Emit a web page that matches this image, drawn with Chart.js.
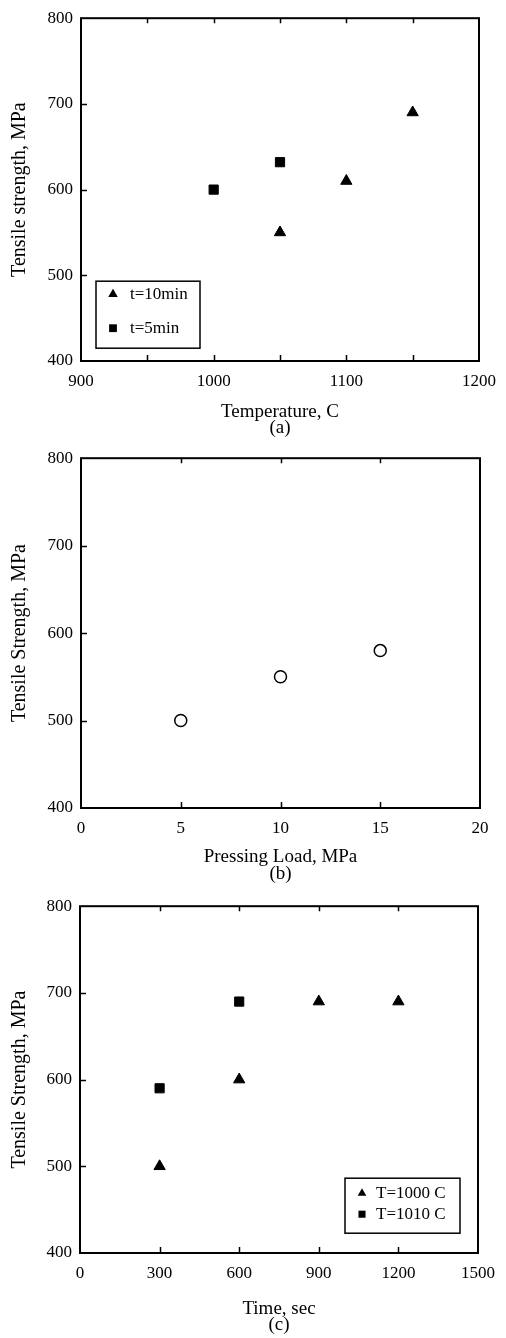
<!DOCTYPE html>
<html>
<head>
<meta charset="utf-8">
<script src="https://cdn.jsdelivr.net/npm/chart.js@4.4.1/dist/chart.umd.min.js"></script>
<style>
  html, body { margin: 0; padding: 0; background: #fff; }
  body { width: 506px; height: 1338px; position: relative; overflow: hidden; }
  canvas { position: absolute; left: 0; }
</style>
</head>
<body>
<canvas id="ca" width="506" height="437" style="top:0px"></canvas>
<canvas id="cb" width="506" height="444" style="top:440px"></canvas>
<canvas id="cc" width="506" height="446" style="top:888px"></canvas>
<script>
// ---------- Data ----------
// (a) Tensile strength vs temperature
const tempA10min = [1050, 1100, 1150];
const strengthA10min = [550, 610, 690];
const tempA5min = [1000, 1050];
const strengthA5min = [600, 632];
const legendA = ['t=10min', 't=5min'];
const xTicksA = [900, 1000, 1100, 1200];
const xMarksA = [950, 1000, 1050, 1100, 1150];

// (b) Tensile strength vs pressing load
const loadB = [5, 10, 15];
const strengthB = [500, 550, 580];
const xTicksB = [0, 5, 10, 15, 20];
const xMarksB = [5, 10, 15];

// (c) Tensile strength vs time
const timeC1000 = [300, 600, 900, 1200];
const strengthC1000 = [500, 600, 690, 690];
const timeC1010 = [300, 600];
const strengthC1010 = [590, 690];
const legendC = ['T=1000 C', 'T=1010 C'];
const xTicksC = [0, 300, 600, 900, 1200, 1500];
const xMarksC = [300, 600, 900, 1200];

const yTicks = [400, 500, 600, 700, 800];
const yMarks = [500, 600, 700];

const titlesX = [['Temperature, C', '(a)'], ['Pressing Load, MPa', '(b)'], ['Time, sec', '(c)']];
const titlesY = ['Tensile strength, MPa', 'Tensile Strength, MPa', 'Tensile Strength, MPa'];

// ---------- Helpers ----------
const SERIF = "'Liberation Serif', 'Times New Roman', serif";
const pts = (xs, ys) => xs.map((x, i) => ({ x: x, y: ys[i] }));

function markerPath(ctx, style, x, y, r) {
  ctx.beginPath();
  if (style === 'triangle') {
    ctx.moveTo(x, y - r);
    ctx.lineTo(x + 0.866 * r, y + 0.5 * r);
    ctx.lineTo(x - 0.866 * r, y + 0.5 * r);
    ctx.closePath();
  } else if (style === 'rect') {
    const s = Math.SQRT1_2 * r;
    ctx.rect(x - s, y - s, 2 * s, 2 * s);
  } else {
    ctx.arc(x, y, r, 0, Math.PI * 2);
  }
}

const frameTicks = {
  id: 'frameTicks',
  afterDatasetsDraw(chart, args, o) {
    const { ctx, chartArea: a, scales } = chart;
    ctx.save();
    ctx.strokeStyle = '#000';
    ctx.lineWidth = 2;
    ctx.strokeRect(a.left, a.top, a.right - a.left, a.bottom - a.top);
    ctx.lineWidth = 1.5;
    ctx.beginPath();
    (o.xMarks || []).forEach(v => {
      const px = Math.round(scales.x.getPixelForValue(v)) + 0.5;
      ctx.moveTo(px, a.bottom); ctx.lineTo(px, a.bottom - o.len);
      ctx.moveTo(px, a.top); ctx.lineTo(px, a.top + o.len - 1);
    });
    (o.yMarks || []).forEach(v => {
      const py = Math.round(scales.y.getPixelForValue(v)) + 0.5;
      ctx.moveTo(a.left, py); ctx.lineTo(a.left + o.len, py);
    });
    ctx.stroke();
    ctx.restore();
  }
};

const boxLegend = {
  id: 'boxLegend',
  afterDraw(chart, args, o) {
    if (!o.show) return;
    const { ctx, chartArea: a } = chart;
    const left = a.left + o.dx, top = a.top + o.dy;
    ctx.save();
    ctx.strokeStyle = '#000';
    ctx.lineWidth = 1.5;
    ctx.strokeRect(left, top, o.w, o.h);
    ctx.fillStyle = '#000';
    ctx.font = o.font;
    ctx.textBaseline = 'middle';
    ctx.textAlign = 'left';
    chart.data.datasets.forEach((ds, i) => {
      const y = top + o.rows[i];
      markerPath(ctx, ds.pointStyle, left + o.mx, y, o.r);
      ctx.fill();
      ctx.fillText(ds.label, left + o.tx, y);
    });
    ctx.restore();
  }
};

function makeChart(id, cfg) {
  const tickFont = { family: SERIF, size: 17 };
  return new Chart(document.getElementById(id), {
    type: 'scatter',
    data: { datasets: cfg.datasets },
    options: {
      responsive: false,
      animation: false,
      events: [],
      layout: { padding: { top: cfg.padTop, right: cfg.padRight, left: 0, bottom: 0 } },
      plugins: {
        legend: { display: false },
        tooltip: { enabled: false },
        frameTicks: { xMarks: cfg.xMarks, yMarks: yMarks, len: 6 },
        boxLegend: cfg.legend || { show: false }
      },
      scales: {
        x: {
          type: 'linear',
          min: cfg.xTicks[0],
          max: cfg.xTicks[cfg.xTicks.length - 1],
          grid: { display: false, drawTicks: false },
          border: { display: false },
          afterBuildTicks: s => { s.ticks = cfg.xTicks.map(v => ({ value: v })); },
          afterFit: s => { s.height = cfg.xHeight; },
          ticks: {
            color: '#000', font: tickFont, padding: 10, autoSkip: false, maxRotation: 0,
            callback: v => String(v)
          },
          title: {
            display: true, text: cfg.xTitle, color: '#000',
            font: { family: SERIF, size: 19, lineHeight: cfg.titleLH },
            padding: { top: 0, bottom: 1 }
          }
        },
        y: {
          type: 'linear',
          min: 400, max: 800,
          grid: { display: false, drawTicks: false },
          border: { display: false },
          afterBuildTicks: s => { s.ticks = yTicks.map(v => ({ value: v })); },
          afterFit: s => { s.width = cfg.yWidth; },
          ticks: {
            color: '#000', font: tickFont, padding: 8, autoSkip: false,
            callback: v => String(v)
          },
          title: {
            display: true, text: cfg.yTitle, color: '#000',
            font: { family: SERIF, size: 20 },
            padding: { top: 8, bottom: 0 }
          }
        }
      }
    },
    plugins: [frameTicks, boxLegend]
  });
}

const filled = (label, style, xs, ys) => ({
  label: label, data: pts(xs, ys), pointStyle: style, pointRadius: 6.5,
  backgroundColor: '#000', borderColor: '#000', borderWidth: 1, showLine: false
});

// (a)
makeChart('ca', {
  datasets: [
    filled(legendA[0], 'triangle', tempA10min, strengthA10min),
    filled(legendA[1], 'rect', tempA5min, strengthA5min)
  ],
  xTicks: xTicksA, xMarks: xMarksA,
  padTop: 11, padRight: 24, yWidth: 81, xHeight: 76, titleLH: '16px',
  xTitle: titlesX[0], yTitle: titlesY[0],
  legend: { show: true, dx: 15, dy: 263, w: 104, h: 67, rows: [13, 47], mx: 17, tx: 34, r: 5.5,
            font: "17px 'Liberation Serif', serif" }
});

// (b)
makeChart('cb', {
  datasets: [{
    label: 'Tensile Strength', data: pts(loadB, strengthB), pointStyle: 'circle', pointRadius: 6,
    backgroundColor: 'rgba(255,255,255,0)', borderColor: '#000', borderWidth: 1.5, showLine: false
  }],
  xTicks: xTicksB, xMarks: xMarksB,
  padTop: 14, padRight: 26, yWidth: 81, xHeight: 76, titleLH: '17px',
  xTitle: titlesX[1], yTitle: titlesY[1]
});

// (c)
makeChart('cc', {
  datasets: [
    filled(legendC[0], 'triangle', timeC1000, strengthC1000),
    filled(legendC[1], 'rect', timeC1010, strengthC1010)
  ],
  xTicks: xTicksC, xMarks: xMarksC,
  padTop: 15, padRight: 28, yWidth: 80, xHeight: 81, titleLH: '16px',
  xTitle: titlesX[2], yTitle: titlesY[2],
  legend: { show: true, dx: 265, dy: 272, w: 115, h: 55, rows: [15, 36], mx: 17, tx: 31, r: 5,
            font: "17px 'Liberation Serif', serif" }
});
</script>
</body>
</html>
